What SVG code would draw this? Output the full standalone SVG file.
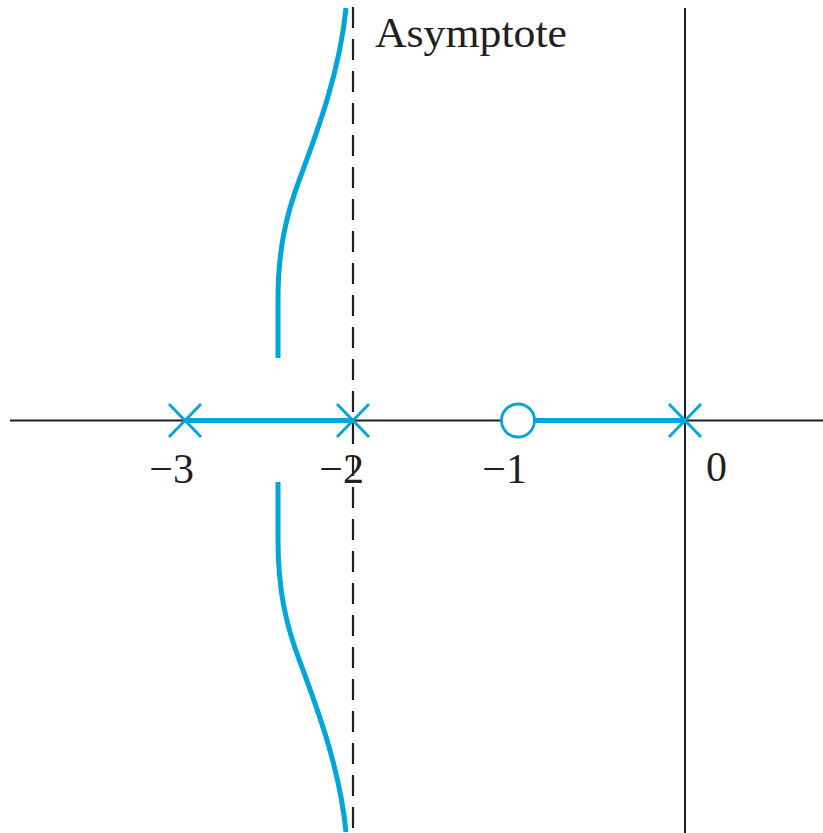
<svg xmlns="http://www.w3.org/2000/svg" width="823" height="833" viewBox="0 0 823 833">
<style>
.axis{stroke:#231f20;stroke-width:2;fill:none}
.dash{stroke:#231f20;stroke-width:2.2;fill:none;stroke-dasharray:21 11}
.locus{stroke:#00a6d9;stroke-width:5;fill:none}
.cross{stroke:#00a6d9;stroke-width:2.8;fill:none}
.lbl{font-family:"Liberation Serif","Times New Roman",serif;font-size:42px;fill:#231f20}
</style>
<rect width="823" height="833" fill="#fff"/>
<g id="axes">
<line class="axis" x1="10" y1="420.5" x2="823" y2="420.5"/>
<line class="axis" x1="685" y1="8" x2="685" y2="833"/>
<line class="dash" x1="353" y1="7" x2="353" y2="833"/>
</g>
<g id="connectors">
<line class="locus" x1="185" y1="420.5" x2="353" y2="420.5"/>
<line class="locus" x1="534" y1="420.5" x2="685" y2="420.5"/>
<path class="locus" d="M278,358 L278,300 C278,250 286,215 300,178 C318,130 340,70 346,8"/>
<path class="locus" d="M278,482 L278,540 C278,590 286,625 300,662 C318,710 340,770 346,832"/>
</g>
<g id="pole-3"><path class="cross" d="M169,404 L201,437 M169,437 L201,404"/></g>
<g id="pole-2"><path class="cross" d="M337,404 L369,437 M337,437 L369,404"/></g>
<g id="pole0"><path class="cross" d="M669,404 L701,437 M669,437 L701,404"/></g>
<g id="zero-1"><circle cx="518" cy="420.5" r="16.5" fill="#fff" stroke="#00a6d9" stroke-width="2.8"/></g>
<g id="labels">
<text class="lbl" x="194" y="483" text-anchor="end">−3</text>
<text class="lbl" x="364" y="483" text-anchor="end">−2</text>
<text class="lbl" x="527" y="483" text-anchor="end">−1</text>
<text class="lbl" x="706" y="481">0</text>
<text class="lbl" x="375" y="47" textLength="192" lengthAdjust="spacingAndGlyphs">Asymptote</text>
</g>
</svg>
